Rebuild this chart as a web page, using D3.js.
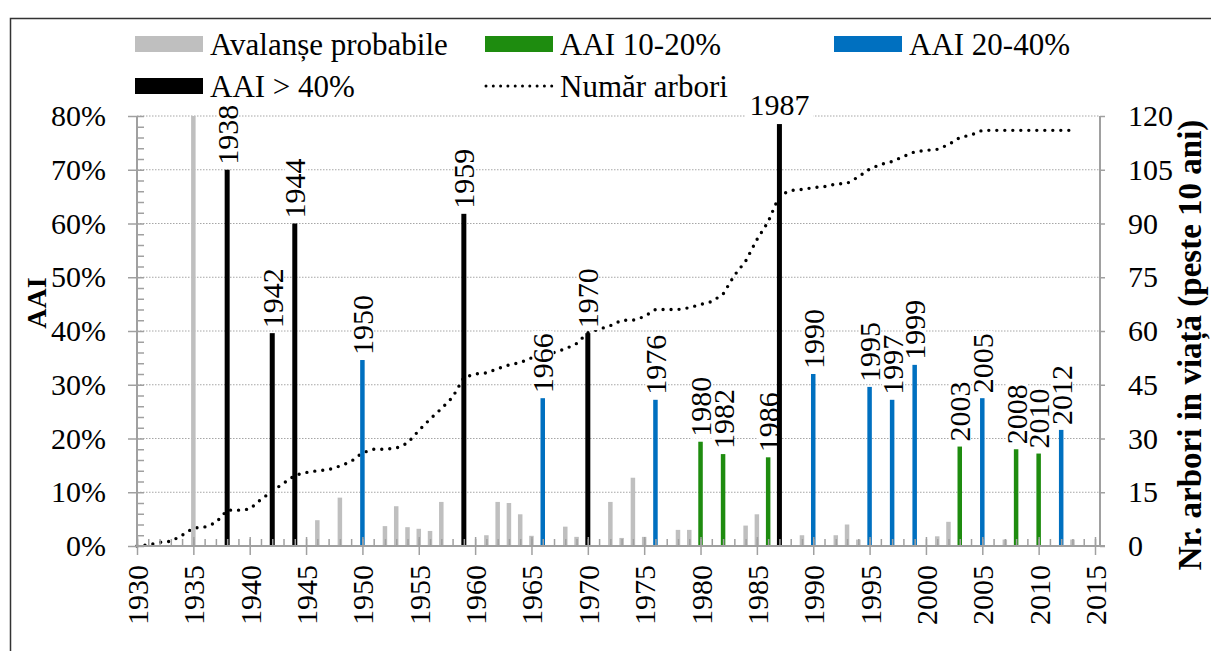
<!DOCTYPE html>
<html>
<head>
<meta charset="utf-8">
<script src="https://cdn.jsdelivr.net/npm/d3@7/dist/d3.min.js"></script>
<style>
body { margin: 0; background: #fff; }
</style>
</head>
<body>
<div id="chart"></div>
<script>
// grey bars: probable avalanches
var probableYears = [1935, 1946, 1948, 1952, 1953, 1954, 1955, 1956, 1957, 1961, 1962, 1963, 1964, 1965,
	1968, 1969, 1972, 1973, 1974, 1975, 1978, 1979, 1984, 1985, 1989, 1992, 1993, 1994, 2001, 2002, 2007, 2013];
var probableValues = [0.80, 0.048, 0.09, 0.037, 0.074, 0.035, 0.032, 0.028, 0.082, 0.02, 0.082, 0.08, 0.059, 0.019,
	0.036, 0.017, 0.082, 0.015, 0.127, 0.017, 0.03, 0.03, 0.038, 0.059, 0.02, 0.02, 0.04, 0.012, 0.018, 0.045, 0.012, 0.012];

// AAI 10-20%
var aai10Years = [1980, 1982, 1986, 2003, 2008, 2010];
var aai10Values = [0.194, 0.171, 0.165, 0.185, 0.180, 0.172];

// AAI 20-40%
var aai20Years = [1950, 1966, 1976, 1990, 1995, 1997, 1999, 2005, 2012];
var aai20Values = [0.346, 0.275, 0.272, 0.32, 0.296, 0.272, 0.337, 0.275, 0.216];

// AAI > 40%
var aai40Years = [1938, 1942, 1944, 1959, 1970, 1987];
var aai40Values = [0.70, 0.396, 0.60, 0.618, 0.396, 0.785];

// numar arbori (right axis)
var treeYears = [1930, 1931, 1932, 1933, 1934, 1935, 1936, 1937, 1938, 1939,
	1940, 1941, 1942, 1943, 1944, 1945, 1946, 1947, 1948, 1949,
	1950, 1951, 1952, 1953, 1954, 1955, 1956, 1957, 1958, 1959,
	1960, 1961, 1962, 1963, 1964, 1965, 1966, 1967, 1968, 1969,
	1970, 1971, 1972, 1973, 1974, 1975, 1976, 1977, 1978, 1979,
	1980, 1981, 1982, 1983, 1984, 1985, 1986, 1987, 1988, 1989,
	1990, 1991, 1992, 1993, 1994, 1995, 1996, 1997, 1998, 1999,
	2000, 2001, 2002, 2003, 2004, 2005, 2006, 2007, 2008, 2009,
	2010, 2011, 2012, 2013];
var treeCounts = [0, 0.3, 1, 1.3, 3, 5, 5.3, 6.5, 10, 10,
	10.3, 13, 15.3, 17.5, 19.7, 20.5, 21, 21.3, 22.3, 23.6,
	26, 27, 27, 27.3, 28.7, 32.2, 35.4, 38.3, 41.5, 47,
	48, 48.3, 49.5, 50.5, 51.2, 52.5, 53.5, 54, 55, 56.5,
	59.5, 60.5, 61.5, 63, 63, 64, 66, 66, 66, 66.5,
	67.4, 68.2, 70.3, 75.5, 79.5, 85.5, 90.5, 97.8, 99.2, 99.5,
	100, 100.3, 101, 101.2, 103, 105.2, 106.5, 107.3, 108.7, 110,
	110.4, 110.7, 112, 114, 114.7, 116, 116, 116, 116, 116,
	116, 116, 116, 116];

var pctTicks = [0, 0.1, 0.2, 0.3, 0.4, 0.5, 0.6, 0.7, 0.8];
var treeTicks = [0, 15, 30, 45, 60, 75, 90, 105, 120];
var yearTicks = [1930, 1935, 1940, 1945, 1950, 1955, 1960, 1965, 1970, 1975, 1980, 1985, 1990, 1995, 2000, 2005, 2010, 2015];

var colGrey = "#bfbfbf", colGreen = "#1e8c0f", colBlue = "#0070c0", colBlack = "#000";
var axisCol = "#a0a0a0";
var serif = "'Liberation Serif', serif";

var W = 1211, H = 651;
var plotL = 137, plotR = 1100, plotT = 116, plotB = 546;

var svg = d3.select("#chart").append("svg").attr("width", W).attr("height", H)
	.style("font-family", serif);

var x = d3.scaleLinear().domain([1930, 2015]).range([plotL, 1095]);
var y = d3.scaleLinear().domain([0, 0.8]).range([plotB, plotT]);
var y2 = d3.scaleLinear().domain([0, 120]).range([plotB, plotT]);

// frame
svg.append("path").attr("d", "M10.5," + H + "V18.5H" + W)
	.attr("fill", "none").attr("stroke", "#333").attr("stroke-width", 1.5);

// gridlines
svg.append("g").selectAll("line").data(pctTicks.slice(1)).enter().append("line")
	.attr("x1", plotL).attr("x2", plotR)
	.attr("y1", function(d) { return y(d); }).attr("y2", function(d) { return y(d); })
	.attr("stroke", "#a6a6a6").attr("stroke-width", 1).attr("stroke-dasharray", "1.5,1.5");

// tree count line
var line = d3.line()
	.x(function(d, i) { return x(treeYears[i]); })
	.y(function(d) { return y2(d); });
svg.append("path").datum(treeCounts)
	.attr("d", line)
	.attr("fill", "none").attr("stroke", "#000").attr("stroke-width", 3.4)
	.attr("stroke-linecap", "round").attr("stroke-dasharray", "0,8");

function build(years, values, color, w, lab) {
	return years.map(function(yr, i) { return {year: yr, value: values[i], color: color, w: w, lab: lab}; });
}
var bars = [].concat(
	build(probableYears, probableValues, colGrey, 4.5, false),
	build(aai10Years, aai10Values, colGreen, 4.5, true),
	build(aai20Years, aai20Values, colBlue, 4.5, true),
	build(aai40Years, aai40Values, colBlack, 5, true));

// data labels (white boxes)
var labs = svg.append("g").selectAll("g")
	.data(bars.filter(function(d) { return d.lab; }).sort(function(a, b) { return a.year - b.year; }))
	.enter().append("g")
	.attr("transform", function(d) { return "translate(" + x(d.year) + "," + (y(d.value) - 5) + ")"; });

labs.each(function(d) {
	var gg = d3.select(this);
	var bg = gg.append("rect").attr("fill", "#fff");
	var t = gg.append("text").attr("font-size", 30).attr("font-family", "Liberation Serif").text(d.year);
	var len = t.node().getComputedTextLength();
	if (y(d.value) - 5 - len < 80) {
		// no room above: horizontal label
		t.attr("text-anchor", "middle").attr("y", -4);
		bg.attr("x", -len / 2 - 4).attr("y", -24).attr("width", len + 8).attr("height", 23);
	} else {
		t.attr("transform", "rotate(-90)").attr("dy", "0.35em");
		bg.attr("x", -10).attr("y", -len - 2).attr("width", 21).attr("height", len + 4);
	}
});

// bars
svg.append("g").selectAll("rect").data(bars).enter().append("rect")
	.attr("x", function(d) { return x(d.year) - d.w / 2; })
	.attr("width", function(d) { return d.w; })
	.attr("y", function(d) { return y(d.value); })
	.attr("height", function(d) { return plotB - y(d.value); })
	.attr("fill", function(d) { return d.color; });

// axes
function styleAxis(a) {
	a.attr("font-family", "Liberation Serif").attr("font-size", 30);
	a.select(".domain").remove();
	a.selectAll("line").attr("stroke", axisCol).attr("stroke-width", 1.5);
	a.selectAll("text").attr("fill", "#000");
}

// left
var ax = svg.append("g").attr("transform", "translate(" + plotL + ",0)")
	.call(d3.axisLeft(y).tickValues(pctTicks).tickFormat(d3.format(".0%")).tickSize(9).tickPadding(22));
styleAxis(ax);
var minorPct = d3.range(0, 0.801, 0.02);
var axm = svg.append("g").attr("transform", "translate(" + plotL + ",0)")
	.call(d3.axisRight(y).tickValues(minorPct).tickFormat("").tickSize(7));
styleAxis(axm);

// right
var ar = svg.append("g").attr("transform", "translate(" + plotR + ",0)")
	.call(d3.axisRight(y2).tickValues(treeTicks).tickSize(5).tickPadding(23));
styleAxis(ar);
ar.selectAll("text").attr("x", 28);

// bottom
var minorYears = treeYears.concat([2014, 2015]);
var abm = svg.append("g").attr("transform", "translate(0," + plotB + ")")
	.call(d3.axisTop(x).tickValues(minorYears).tickFormat("").tickSize(7));
styleAxis(abm);
var ab = svg.append("g").attr("transform", "translate(0," + plotB + ")")
	.call(d3.axisBottom(x).tickValues(yearTicks).tickFormat(d3.format("d")).tickSize(9));
styleAxis(ab);
ab.selectAll(".tick line").attr("y1", -9);
ab.selectAll("text")
	.attr("y", 0).attr("x", -19).attr("dy", "0.35em")
	.attr("text-anchor", "end").attr("transform", "rotate(-90)");

// axis lines
svg.append("line").attr("x1", plotL).attr("x2", plotL).attr("y1", plotT).attr("y2", plotB)
	.attr("stroke", axisCol).attr("stroke-width", 2);
svg.append("line").attr("x1", plotR).attr("x2", plotR).attr("y1", plotT).attr("y2", plotB)
	.attr("stroke", axisCol).attr("stroke-width", 2);
svg.append("line").attr("x1", plotL).attr("x2", plotR + 5).attr("y1", plotB).attr("y2", plotB)
	.attr("stroke", axisCol).attr("stroke-width", 2);

// axis titles
svg.append("text").attr("transform", "translate(46,303) rotate(-90)").attr("font-family", "Liberation Serif")
	.attr("text-anchor", "middle").attr("font-size", 28).attr("font-weight", "bold").text("AAI");
svg.append("text").attr("transform", "translate(1201,345) rotate(-90)").attr("font-family", "Liberation Serif")
	.attr("text-anchor", "middle").attr("font-size", 33).attr("font-weight", "bold")
	.text("Nr. arbori in viață (peste 10 ani)");

// legend
var legendNames = ["Avalanșe probabile", "AAI 10-20%", "AAI 20-40%", "AAI > 40%", "Număr arbori"];
var legendColors = [colGrey, colGreen, colBlue, colBlack, null];
var legX = [135, 485, 834, 135, 485];
var legY = [44, 44, 44, 86, 86];
var leg = svg.append("g").selectAll("g").data(legendNames).enter().append("g")
	.attr("transform", function(d, i) { return "translate(" + legX[i] + "," + legY[i] + ")"; });
leg.each(function(d, i) {
	var gg = d3.select(this);
	if (legendColors[i]) {
		gg.append("rect").attr("x", 0).attr("y", -8).attr("width", 68).attr("height", 16).attr("fill", legendColors[i]);
	} else {
		gg.append("line").attr("x1", 1).attr("x2", 67).attr("y1", 0).attr("y2", 0)
			.attr("stroke", "#000").attr("stroke-width", 3).attr("stroke-linecap", "round").attr("stroke-dasharray", "0,7.3");
	}
	gg.append("text").attr("x", 75).attr("y", 11).attr("font-size", 31).attr("font-family", "Liberation Serif").text(d);
});
</script>
</body>
</html>
